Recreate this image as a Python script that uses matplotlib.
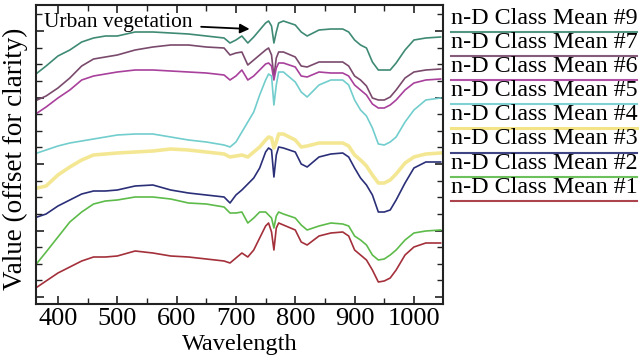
import numpy as np
import matplotlib
matplotlib.use("Agg")
import matplotlib.pyplot as plt
from matplotlib.lines import Line2D
from matplotlib.ticker import MultipleLocator

plt.rcParams['font.family'] = ['Liberation Serif', 'DejaVu Serif']

# wavelength sample points (nm)
wavelength = [365, 380, 400, 420, 440, 460, 480, 500, 530, 560, 590, 620, 650, 680, 690, 700,
              710, 720, 730, 740, 750, 755, 760, 764, 768, 772, 780, 800, 810, 820, 840, 860,
              880, 890, 900, 910, 920, 930, 940, 950, 960, 970, 985, 1000, 1020, 1045]

# class mean spectra (arbitrary units, offset for clarity)
mean9 = [231, 238, 248, 254, 262, 266, 268, 268, 272, 272, 271, 270, 268, 266, 261, 264,
         268, 261, 267, 274, 281, 283, 278, 261, 272, 281, 283, 279, 272, 268, 274, 275,
         275, 272, 264, 259, 256, 242, 234, 234, 234, 241, 254, 264, 266, 267]
mean7 = [204, 208, 216, 226, 238, 245, 247, 249, 254, 257, 259, 259, 257, 256, 249, 251,
         252, 239, 244, 249, 254, 256, 249, 227, 246, 252, 252, 247, 238, 237, 242, 242,
         242, 238, 228, 224, 218, 206, 204, 204, 207, 214, 226, 232, 234, 235]
mean6 = [191, 197, 206, 214, 224, 228, 230, 232, 234, 234, 233, 232, 231, 229, 224, 228,
         234, 224, 228, 234, 240, 241, 238, 224, 236, 241, 241, 237, 228, 227, 232, 231,
         231, 228, 219, 214, 209, 200, 196, 196, 199, 204, 214, 221, 224, 225]
mean5 = [151, 154, 158, 161, 163, 165, 167, 169, 170, 170, 167, 164, 162, 159, 157, 162,
         172, 182, 192, 209, 224, 230, 228, 199, 219, 232, 232, 222, 212, 207, 219, 224,
         224, 219, 204, 194, 188, 176, 160, 159, 162, 167, 182, 194, 204, 206]
mean4 = [116, 118, 129, 137, 144, 149, 150, 151, 152, 153, 155, 154, 152, 150, 147, 148,
         149, 147, 152, 157, 164, 167, 166, 156, 162, 170, 170, 164, 157, 158, 161, 161,
         161, 158, 149, 144, 138, 129, 121, 121, 124, 130, 141, 147, 150, 151]
mean3 = [87, 90, 98, 104, 110, 113, 113, 114, 118, 119, 114, 111, 109, 107, 101, 109,
         114, 120, 126, 136, 152, 156, 154, 127, 149, 157, 156, 152, 140, 137, 147, 150,
         151, 147, 136, 126, 119, 109, 92, 92, 94, 104, 121, 136, 142, 142]
mean2 = [41, 52, 67, 82, 92, 100, 103, 104, 107, 107, 105, 101, 100, 97, 91, 91,
         92, 81, 86, 92, 92, 89, 86, 76, 88, 92, 90, 86, 79, 74, 78, 81,
         80, 78, 68, 64, 59, 49, 44, 45, 49, 54, 64, 71, 73, 74]
mean1 = [17, 23, 31, 37, 43, 47, 47, 48, 53, 51, 48, 47, 45, 43, 41, 46,
         51, 47, 54, 66, 78, 81, 72, 54, 76, 81, 79, 74, 62, 59, 68, 71,
         72, 68, 54, 49, 44, 34, 22, 23, 26, 34, 49, 57, 61, 61]

labels = ["n-D Class Mean #9", "n-D Class Mean #7", "n-D Class Mean #6", "n-D Class Mean #5",
          "n-D Class Mean #4", "n-D Class Mean #3", "n-D Class Mean #2", "n-D Class Mean #1"]
series = [mean9, mean7, mean6, mean5, mean4, mean3, mean2, mean1]
colors = ["#3f8a74", "#7a4a6c", "#a8409c", "#72cdcd", "#f2e27a", "#2a2f78", "#5dbb4a", "#a3303a"]
widths = [1.2, 1.2, 1.2, 1.2, 2.6, 1.2, 1.2, 1.2]

fig = plt.figure(figsize=(6.4, 3.57), dpi=100)
ax = fig.add_axes([36/640, 1-304/357, (443-36)/640, (304-5)/357])

# draw yellow first so the others sit on top of it
order = [4, 0, 1, 2, 3, 5, 6, 7]
for i in order:
    ax.plot(wavelength, series[i], color=colors[i], lw=widths[i],
            alpha=0.8 if i == 4 else 1.0, zorder=2 if i != 4 else 1)

ax.set_xlim(363, 1049)
ax.set_ylim(0, 299)
ax.xaxis.set_major_locator(MultipleLocator(100))
ax.xaxis.set_minor_locator(MultipleLocator(50))
ax.yaxis.set_major_locator(MultipleLocator(66.5, offset=7))
ax.yaxis.set_minor_locator(MultipleLocator(16.625, offset=7))
ax.set_yticklabels([])
ax.tick_params(which='both', direction='in', top=True, right=True, color='#222222')
ax.tick_params(which='major', length=6, width=1.2, labelsize=19, pad=3)
ax.tick_params(which='minor', length=4, width=1.0)
for s in ax.spines.values():
    s.set_linewidth(1.5)
    s.set_color('#222222')

ax.set_xlabel("Wavelength", fontsize=17.5, labelpad=3)
fig.text(15/640, 1-159/357, "Value (offset for clarity)", rotation=90,
         fontsize=19.5, ha='center', va='center')

ax.annotate("Urban vegetation", xy=(723, 275), xytext=(377, 281),
            fontsize=15.5, va='center', ha='left',
            arrowprops=dict(arrowstyle='-|>', color='black', lw=1.3,
                            shrinkA=4, shrinkB=0, mutation_scale=14))

# custom legend: label text with a coloured underline
for k, lab in enumerate(labels):
    base_px = 24 + k * 24.1
    line_px = 32 + k * 24.1
    fig.text(451/640, 1-base_px/357, lab, fontsize=17.3, ha='left', va='baseline')
    fig.add_artist(Line2D([451/640, 637/640], [1-line_px/357, 1-line_px/357],
                          color=colors[k], lw=2.2 if k == 4 else 1.5, alpha=0.9))

fig.savefig("out.png", dpi=100)
